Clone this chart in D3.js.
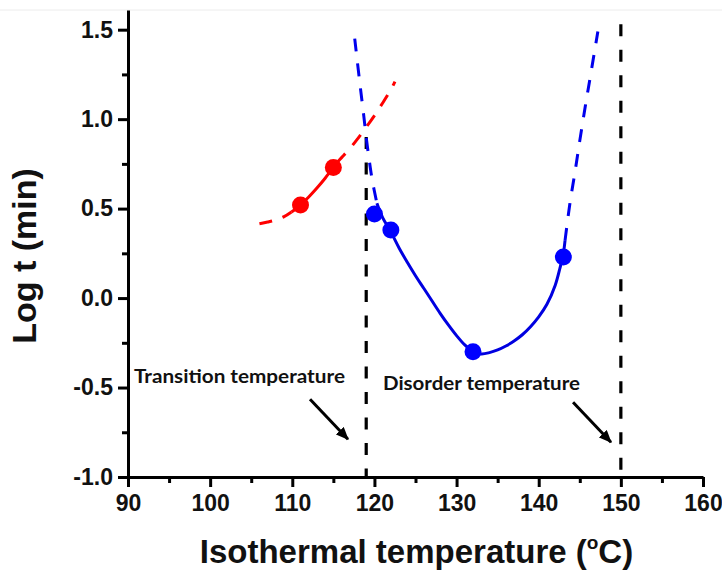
<!DOCTYPE html>
<html><head><meta charset="utf-8">
<script src="https://cdn.jsdelivr.net/npm/d3@7"></script>
<style>body{margin:0;background:#fff}svg{display:block}</style>
</head><body>
<script>
// ---------- data ----------
const xTicks = [90, 100, 110, 120, 130, 140, 150, 160];
const xMinorTicks = [95, 105, 115, 125, 135, 145, 155];
const yTicks = [-1.0, -0.5, 0.0, 0.5, 1.0, 1.5];
const yMinorTicks = [-0.75, -0.25, 0.25, 0.75, 1.25];

const redPointsX = [111, 115];
const redPointsY = [0.52, 0.73];
const bluePointsX = [120, 122, 132, 143];
const bluePointsY = [0.47, 0.38, -0.30, 0.23];

// fitted curves
const redFitLowX = [106, 107, 108, 109, 109.9];
const redFitLowY = [0.415, 0.425, 0.437, 0.455, 0.481];
const redFitSolidX = [109.9, 111, 112, 113, 114, 115, 115.4];
const redFitSolidY = [0.481, 0.52, 0.565, 0.615, 0.67, 0.73, 0.755];
const redFitHighX = [115.4, 116, 117, 118, 119, 120, 121, 122, 122.5];
const redFitHighY = [0.755, 0.785, 0.835, 0.893, 0.955, 1.02, 1.09, 1.165, 1.21];

const blueFitLeftX = [117.6, 118.2, 118.7, 119.05, 119.4, 119.75, 120.3];
const blueFitLeftY = [1.45, 1.21, 1.02, 0.88, 0.76, 0.655, 0.53];
const blueFitSolidX = [120.3, 121, 122, 123, 124, 125, 126, 127, 128, 129, 130, 131, 132, 133, 134, 135, 136, 137, 138, 139, 140, 141, 142, 142.6, 143.0, 143.2];
const blueFitSolidY = [0.53, 0.45, 0.37, 0.28, 0.20, 0.125, 0.055, -0.015, -0.085, -0.15, -0.21, -0.262, -0.298, -0.312, -0.305, -0.29, -0.268, -0.24, -0.205, -0.16, -0.105, -0.035, 0.07, 0.17, 0.25, 0.32];
const blueFitRightX = [143.2, 143.8, 144.4, 145, 145.7, 146.4, 147.2];
const blueFitRightY = [0.32, 0.53, 0.70, 0.88, 1.08, 1.27, 1.49];

const vLinesX = [119, 150];
const vLinesTop = [0.90, 1.53];

const annotTexts = ["Transition temperature", "Disorder temperature"];
const annotX = [90.73, 121.04];
const annotY = [-0.472, -0.515];
const arrowX1 = [112.16, 144.18];
const arrowY1 = [-0.565, -0.582];
const arrowX2 = [116.78, 148.8];
const arrowY2 = [-0.789, -0.806];

const xTitle = "Isothermal temperature (";
const yTitle = "Log t (min)";

// ---------- drawing ----------
const W = 722, H = 577;
const svg = d3.select("body").append("svg").attr("width", W).attr("height", H)
  .style("background", "#fff");

const x = d3.scaleLinear().domain([90, 160]).range([128, 703]);
const y = d3.scaleLinear().domain([-1, 1.61]).range([477, 10]);

const tickFont = "'Liberation Sans', Arial, sans-serif";

// faint top border
svg.append("line").attr("x1", 0).attr("x2", W).attr("y1", 10).attr("y2", 10)
  .attr("stroke", "#ececec").attr("stroke-width", 1);

// vertical dashed lines
svg.selectAll(".vline").data(vLinesX).enter().append("line")
  .attr("x1", d => x(d)).attr("x2", d => x(d))
  .attr("y1", (d, i) => y(vLinesTop[i])).attr("y2", y(-1))
  .attr("stroke", "#000").attr("stroke-width", 3.2)
  .attr("stroke-dasharray", "12,13.5");

// curves
const line = d3.line().x(d => x(d[0])).y(d => y(d[1])).curve(d3.curveCatmullRom);
const zipXY = (a, b) => a.map((v, i) => [v, b[i]]);
const curves = [
  {xs: redFitLowX, ys: redFitLowY, c: "#ff0000", dash: "13,11"},
  {xs: redFitSolidX, ys: redFitSolidY, c: "#ff0000", dash: null},
  {xs: redFitHighX, ys: redFitHighY, c: "#ff0000", dash: "13,11"},
  {xs: blueFitLeftX, ys: blueFitLeftY, c: "#0000ee", dash: "13,12"},
  {xs: blueFitSolidX, ys: blueFitSolidY, c: "#0000e0", dash: null},
  {xs: blueFitRightX, ys: blueFitRightY, c: "#0000ee", dash: "13,12"}
];
curves.forEach(cv => {
  const p = svg.append("path").attr("d", line(zipXY(cv.xs, cv.ys)))
    .attr("fill", "none").attr("stroke", cv.c).attr("stroke-width", 3);
  if (cv.dash) p.attr("stroke-dasharray", cv.dash);
});

// points
svg.selectAll(".rp").data(zipXY(redPointsX, redPointsY)).enter().append("circle")
  .attr("cx", d => x(d[0])).attr("cy", d => y(d[1])).attr("r", 8.5).attr("fill", "#ff0000");
svg.selectAll(".bp").data(zipXY(bluePointsX, bluePointsY)).enter().append("circle")
  .attr("cx", d => x(d[0])).attr("cy", d => y(d[1])).attr("r", 8.5).attr("fill", "#0000ff");

// axes
function styleAxis(g) {
  g.selectAll("path.domain").attr("stroke", "#000").attr("stroke-width", 3);
  g.selectAll(".tick line").attr("stroke", "#000").attr("stroke-width", 3);
  g.selectAll(".tick text").attr("fill", "#111").style("font-family", tickFont)
    .style("font-weight", "bold").style("font-size", "23px");
}
const yFmt = d => d3.format(".1f")(d).replace("\u2212", "-");
const gx = svg.append("g").attr("transform", `translate(0,${y(-1)})`)
  .call(d3.axisBottom(x).tickValues(xTicks).tickFormat(d3.format("d"))
    .tickSize(10).tickSizeOuter(0).tickPadding(8));
styleAxis(gx);
const gxm = svg.append("g").attr("transform", `translate(0,${y(-1)})`)
  .call(d3.axisBottom(x).tickValues(xMinorTicks).tickFormat("").tickSize(6).tickSizeOuter(0));
gxm.select("path.domain").remove();
styleAxis(gxm);

const gy = svg.append("g").attr("transform", `translate(${x(90)},0)`)
  .call(d3.axisLeft(y).tickValues(yTicks).tickFormat(yFmt)
    .tickSize(10).tickSizeOuter(0).tickPadding(5));
styleAxis(gy);
const gym = svg.append("g").attr("transform", `translate(${x(90)},0)`)
  .call(d3.axisLeft(y).tickValues(yMinorTicks).tickFormat("").tickSize(6).tickSizeOuter(0));
gym.select("path.domain").remove();
styleAxis(gym);

// axis titles
const xt = svg.append("text").attr("x", (x(90) + x(160)) / 2 + 1).attr("y", 563)
  .attr("text-anchor", "middle").attr("fill", "#111")
  .style("font-family", tickFont).style("font-weight", "bold").style("font-size", "33px");
xt.append("tspan").text(xTitle);
xt.append("tspan").attr("dy", -14).style("font-size", "19px").text("o");
xt.append("tspan").attr("dy", 14).text("C)");

svg.append("text").attr("transform", `translate(36,256) rotate(-90)`)
  .attr("text-anchor", "middle").attr("fill", "#111")
  .style("font-family", tickFont).style("font-weight", "bold").style("font-size", "34px")
  .text(yTitle);

// annotations
const defs = svg.append("defs");
defs.append("marker").attr("id", "ah").attr("viewBox", "0 0 12 10")
  .attr("refX", 11).attr("refY", 5).attr("markerWidth", 13).attr("markerHeight", 11)
  .attr("markerUnits", "userSpaceOnUse").attr("orient", "auto")
  .append("path").attr("d", "M0,0 L12,5 L0,10 Z").attr("fill", "#000");

svg.selectAll(".arr").data(arrowX1).enter().append("line")
  .attr("x1", (d, i) => x(d)).attr("y1", (d, i) => y(arrowY1[i]))
  .attr("x2", (d, i) => x(arrowX2[i])).attr("y2", (d, i) => y(arrowY2[i]))
  .attr("stroke", "#000").attr("stroke-width", 3).attr("marker-end", "url(#ah)");

const annotWidths = [211, 197];
svg.selectAll(".ann").data(annotTexts).enter().append("text")
  .attr("x", (d, i) => x(annotX[i])).attr("y", (d, i) => y(annotY[i]))
  .attr("fill", "#111").style("font-family", "Lato, 'Open Sans', sans-serif")
  .style("font-weight", "bold").style("font-size", "19px")
  .attr("textLength", (d, i) => annotWidths[i]).attr("lengthAdjust", "spacingAndGlyphs")
  .text(d => d);
</script>
</body></html>
